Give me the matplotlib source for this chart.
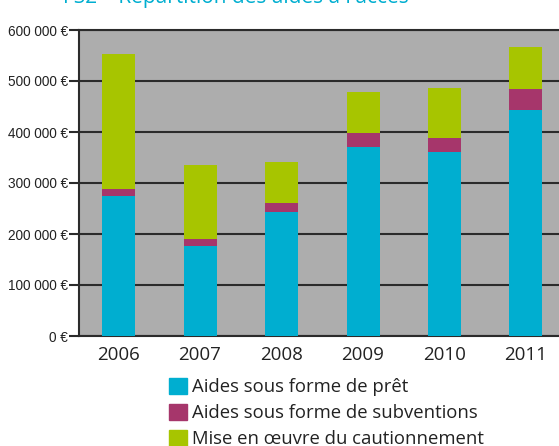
import numpy as np
import matplotlib.pyplot as plt
from matplotlib.patches import Patch

years = ["2006", "2007", "2008", "2009", "2010", "2011"]
pret = [275000, 177000, 244000, 370000, 361000, 443000]
subventions = [13000, 13000, 17000, 28000, 27000, 41000]
cautionnement = [265000, 145000, 80000, 80000, 98000, 82000]
yticks = [0, 100000, 200000, 300000, 400000, 500000, 600000]
ylabels = ["0 €", "100 000 €", "200 000 €", "300 000 €",
           "400 000 €", "500 000 €", "600 000 €"]
legend_labels = ["Aides sous forme de prêt",
                 "Aides sous forme de subventions",
                 "Mise en œuvre du cautionnement"]

c_pret = "#00AED0"
c_sub = "#A6366B"
c_caut = "#A7C500"
grid_c = "#2b2b2b"

plt.rcParams['font.family'] = ['Open Sans', 'DejaVu Sans']

fig = plt.figure(figsize=(5.59, 4.46), dpi=100)
ax = fig.add_axes([79/559, 110/446, 1 - 79/559, 306/446])
ax.set_facecolor("#ADADAD")

x = np.arange(len(years))
w = 0.405
pret = np.array(pret)
subventions = np.array(subventions)
cautionnement = np.array(cautionnement)
ax.bar(x, pret, w, color=c_pret, zorder=3)
ax.bar(x, subventions, w, bottom=pret, color=c_sub, zorder=3)
ax.bar(x, cautionnement, w, bottom=pret + subventions, color=c_caut, zorder=3)

ax.set_xlim(-0.485, 5.405)
ax.set_ylim(0, 600000)
ax.set_yticks(yticks)
ax.set_yticklabels(ylabels, fontsize=9.8, family=['Liberation Sans', 'DejaVu Sans'])
ax.set_xticks(x)
ax.set_xticklabels(years, fontsize=13.5)
ax.yaxis.grid(True, color=grid_c, lw=1.5, zorder=2)
ax.tick_params(axis='y', length=7, width=1.5, color=grid_c, pad=1, colors="#222222")
ax.tick_params(axis='x', length=0, pad=7, colors="#222222")
for s in ["left", "top", "bottom"]:
    ax.spines[s].set_color(grid_c)
    ax.spines[s].set_linewidth(1.5)
ax.spines["right"].set_visible(False)

fig.text(63/559, 1 + 2/446, "FS2 – Répartition des aides à l'accès",
         color="#00AED0", fontsize=15, va="center", ha="left")

handles = [Patch(color=c_pret), Patch(color=c_sub), Patch(color=c_caut)]
fig.legend(handles, legend_labels, loc="upper left",
           bbox_to_anchor=(169/559, 1 - 378/446), frameon=False,
           fontsize=13.3, handlelength=0.95, handleheight=0.95,
           handletextpad=0.3, labelspacing=0.42, borderpad=0, borderaxespad=0,
           labelcolor="#222222")

fig.savefig("out.png", dpi=100)
